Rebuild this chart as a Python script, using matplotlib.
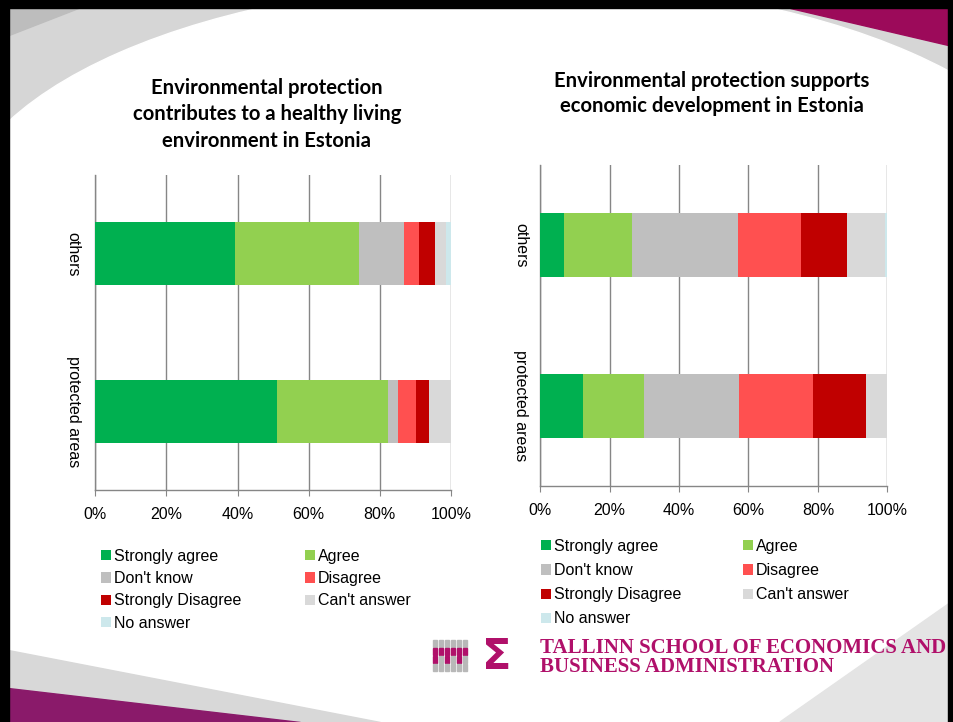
import matplotlib
matplotlib.use("Agg")
import matplotlib.pyplot as plt
from matplotlib.patches import Patch, Polygon, Rectangle, Ellipse
import numpy as np

plt.rcParams['font.family'] = ['Liberation Sans', 'DejaVu Sans']

categories = ["protected areas", "others"]
series_names = ["Strongly agree", "Agree", "Don't know", "Disagree",
                "Strongly Disagree", "Can't answer", "No answer"]
colors = ["#00B050", "#92D050", "#BFBFBF", "#FF5050", "#C00000", "#D9D9D9", "#CDE8EC"]

# left chart: healthy living environment (values in %, order: protected areas, others)
left_strongly_agree = [51.2, 39.4]
left_agree = [31.2, 34.8]
left_dont_know = [2.6, 12.6]
left_disagree = [5.1, 4.2]
left_strongly_disagree = [3.7, 4.4]
left_cant_answer = [6.2, 3.3]
left_no_answer = [0.0, 1.3]

# right chart: economic development
right_strongly_agree = [12.3, 6.7]
right_agree = [17.6, 19.6]
right_dont_know = [27.5, 30.8]
right_disagree = [21.3, 18.1]
right_strongly_disagree = [15.1, 13.1]
right_cant_answer = [6.2, 11.0]
right_no_answer = [0.0, 0.7]

left_title = "Environmental protection\ncontributes to a healthy living\nenvironment in Estonia"
right_title = "Environmental protection supports\neconomic development in Estonia"
xtick_labels = ["0%", "20%", "40%", "60%", "80%", "100%"]

W, H = 954, 722
fig = plt.figure(figsize=(W / 100, H / 100), dpi=100)
fig.patch.set_facecolor("white")

# ---- slide background decoration ----
bg = fig.add_axes([0, 0, 1, 1], zorder=-10)
bg.set_xlim(0, W)
bg.set_ylim(H, 0)
bg.axis("off")
bg.add_patch(Rectangle((0, 0), W, 300, color="#d6d6d6"))
bg.add_patch(Ellipse((515, 226), 1120, 490, color="white"))
bg.add_patch(Rectangle((0, 226), W, H, color="white"))
bg.add_patch(Polygon([[8, 8], [80, 8], [8, 36]], closed=True, color="#bdbdbd"))
bg.add_patch(Polygon([[790, 8], [948, 8], [948, 45]], closed=True, color="#9c0a5a"))
bg.add_patch(Polygon([[780, 722], [954, 600], [954, 722]], closed=True, color="#e4e4e4"))
bg.add_patch(Polygon([[8, 650], [8, 722], [380, 722]], closed=True, color="#d8d8d8"))
bg.add_patch(Polygon([[8, 688], [8, 722], [300, 722]], closed=True, color="#8a1a6a"))
bg.add_patch(Rectangle((0, 0), W, 8, color="black"))
bg.add_patch(Rectangle((0, 0), 9, H, color="black"))
bg.add_patch(Rectangle((948, 0), 6, H, color="black"))


def draw(ax, data, ylab_pad):
    y = np.arange(len(categories))
    left = np.zeros(len(categories))
    for vals, name, c in zip(data, series_names, colors):
        ax.barh(y, vals, left=left, height=0.4, color=c, label=name,
                edgecolor="none", zorder=3)
        left = left + np.array(vals)
    ax.set_xlim(0, 100)
    ax.set_ylim(-0.5, 1.5)
    ax.set_xticks(np.arange(0, 101, 20))
    ax.set_xticklabels(xtick_labels, fontsize=11.5)
    ax.set_yticks(y)
    ax.set_yticklabels(categories, rotation=-90, va="center", ha="center", fontsize=11.5)
    ax.tick_params(axis="y", length=0, pad=ylab_pad)
    ax.tick_params(axis="x", length=4, color="#868686", pad=8)
    ax.grid(axis="x", color="#868686", linewidth=1, zorder=0)
    for s in ["top", "right"]:
        ax.spines[s].set_visible(False)
    for s in ["left", "bottom"]:
        ax.spines[s].set_color("#868686")
        ax.spines[s].set_linewidth(1)
    ax.patch.set_alpha(0)


axL = fig.add_axes([95.3 / W, 1 - 490 / H, 355.7 / W, 315 / H])
draw(axL, [left_strongly_agree, left_agree, left_dont_know, left_disagree,
           left_strongly_disagree, left_cant_answer, left_no_answer], 16)
axR = fig.add_axes([540.3 / W, 1 - 486 / H, 347 / W, 321 / H])
draw(axR, [right_strongly_agree, right_agree, right_dont_know, right_disagree,
           right_strongly_disagree, right_cant_answer, right_no_answer], 14)

fig.text(267 / W, 1 - 114.5 / H, left_title, ha="center", va="center",
         fontsize=14.6, fontweight="bold", family=["Lato", "DejaVu Sans"], linespacing=1.4)
fig.text(712 / W, 1 - 93.5 / H, right_title, ha="center", va="center",
         fontsize=14.6, fontweight="bold", family=["Lato", "DejaVu Sans"], linespacing=1.3)

order = [0, 2, 4, 6, 1, 3, 5]


def legend(x, y, spacing, colspace):
    hs = [Patch(facecolor=colors[i], edgecolor="none") for i in order]
    ls = [series_names[i] for i in order]
    fig.legend(hs, ls, loc="upper left", bbox_to_anchor=(x / W, 1 - y / H), ncol=2,
               frameon=False, fontsize=11.5, handlelength=0.6, handleheight=0.6,
               handletextpad=0.2, labelspacing=spacing, columnspacing=colspace,
               borderaxespad=0, borderpad=0)


legend(101, 549, 0.45, 4.0)
legend(541, 539, 0.57, 3.9)

# logo
logo_color = "#B0106A"
for i in range(6):
    for j in range(4):
        c = logo_color if (j == 1 or (j == 2 and i % 2 == 0)) else "#b8b8b8"
        bg.add_patch(Rectangle((433 + i * 6, 640 + j * 8), 4, 7, color=c))
fig.text(497 / W, 1 - 657 / H, "Σ", ha="center", va="center", fontsize=31,
         fontweight="bold", color=logo_color, family=["DejaVu Sans"])
fig.text(540 / W, 1 - 648 / H, "TALLINN SCHOOL OF ECONOMICS AND", ha="left", va="center",
         fontsize=15, fontweight="bold", color=logo_color, family=["Liberation Serif"])
fig.text(540 / W, 1 - 667 / H, "BUSINESS ADMINISTRATION", ha="left", va="center",
         fontsize=15, fontweight="bold", color=logo_color, family=["Liberation Serif"])

fig.savefig("out.png", dpi=100)
